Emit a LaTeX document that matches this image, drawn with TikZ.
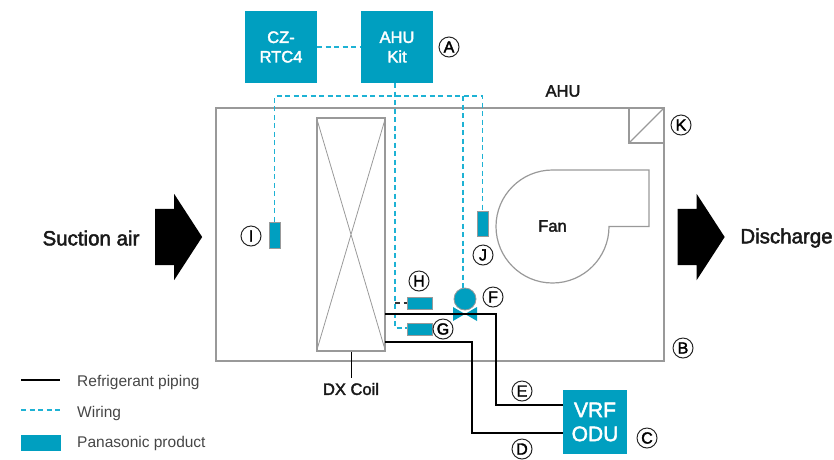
\documentclass[tikz,border=0pt]{standalone}
\usepackage{fontspec}
\setmainfont{Liberation Sans}
\newfontfamily\medfont[FakeBold=2.2]{Liberation Sans}
\usetikzlibrary{shapes.arrows}
\definecolor{product}{RGB}{0,159,192}
\definecolor{wirecol}{RGB}{30,178,212}
\definecolor{casing}{RGB}{153,153,153}
\definecolor{legendtext}{RGB}{70,70,70}
\newcommand{\fsize}[1]{\fontsize{#1}{#1}\selectfont}
\tikzset{
	product/.style={fill=product, text=white, inner sep=0pt, align=center},
	sensor/.style={fill=product, draw=casing, line width=1pt, inner sep=0pt},
	tag/.style={circle, draw=black!85, line width=1pt, minimum size=20pt, inner sep=0pt, font=\fsize{16}\medfont},
	label/.style={font=\fsize{16.5}\medfont, text=black!90},
	biglabel/.style={font=\fsize{20.5}\medfont, text=black!90},
	legend/.style={anchor=west, inner sep=0pt, font=\fsize{15.5}, text=legendtext},
	casing/.style={draw=casing, line width=1.2pt},
	pipe/.style={draw=black, line width=2pt},
	wire/.style={draw=wirecol, line width=1.5pt, dash pattern=on 5pt off 3.5pt},
	flow/.style={single arrow, fill=black, inner xsep=0pt, inner ysep=28pt, minimum height=47pt, single arrow head extend=15pt, single arrow head indent=0pt, single arrow tip angle=114}
}
\begin{document}
\begin{tikzpicture}[x=1pt, y=-1pt]
	\useasboundingbox (0,0) rectangle (834,459);
	
	\node[product, minimum size=72pt, font=\fsize{16.5}\medfont] (CZ) at (281,47) {CZ-\\[3pt]RTC4};
	\node[product, minimum size=72pt, font=\fsize{16.5}\medfont] (Kit) at (397,47) {AHU\\[3pt]Kit};
	\node[product, minimum size=64pt, font=\fsize{21}\medfont] (ODU) at (595,422) {VRF\\[3pt]ODU};
	
	\draw[casing] (216,108) rectangle (664,361);
	\node[casing, draw, minimum width=68pt, minimum height=233pt, inner sep=0pt] (Coil) at (351,234.5) {};
	\draw[casing, line width=0.8pt] (Coil.north west) -- (Coil.south east) (Coil.north east) -- (Coil.south west);
	\draw[casing] (629,108) rectangle (664,143);
	\draw[casing] (629,143) -- (664,108);
	\draw[casing] (552.5,170) -- (649,170) -- (649,226.5) -- (609,226.5) arc[start angle=0, end angle=-270, radius=56.5pt];
	
	\node[sensor, minimum width=11pt, minimum height=26pt] (SI) at (274.5,235) {};
	\node[sensor, minimum width=11pt, minimum height=25pt] (SJ) at (482.5,223.5) {};
	\node[sensor, minimum width=25pt, minimum height=12pt] (SH) at (419.5,303) {};
	\node[sensor, minimum width=25pt, minimum height=12pt] (SG) at (419.5,329) {};
	\node[circle, fill=product, draw=casing, line width=0.8pt, minimum size=22pt, inner sep=0pt] (SF) at (465,299) {};
	\fill[product] (453,307) -- (477,321) -- (477,307) -- (453,321) -- cycle;
	
	\coordinate (WT) at (395,96);
	\coordinate (WH) at (395,303);
	\coordinate (WG) at (395,328);
	\coordinate (WL) at (274.5,96);
	\coordinate (WF) at (463,96);
	\coordinate (WR) at (482.5,96);
	\coordinate (P1) at (385,314);
	\coordinate (P2) at (385,342);
	\coordinate (P1c) at (496,405);
	\coordinate (P2c) at (472,433);
	\coordinate (Stem) at (351,378);
	
	\draw[wire] (CZ.east) -- (Kit.west);
	\draw[wire] (WT |- Kit.south) -- (WG) -- (SG.west |- WG);
	\draw[wire, draw=black!80] (WH) -- (SH.west);
	\draw[wire] (SI.north) -- (WL) -- (WR) -- (SJ.north);
	\draw[wire] (WF) -- (WF |- SF.north);
	
	\draw[pipe] (P1) -- (P1 -| P1c) -- (P1c) -- (P1c -| ODU.west);
	\draw[pipe] (P2) -- (P2 -| P2c) -- (P2c) -- (P2c -| ODU.west);
	\draw[black, line width=1pt] (Coil.south) -- (Stem);
	
	\node[flow] (In) at (169.5,237) {};
	\node[flow] (Out) at (692,237) {};
	
	\node[biglabel] (Suction) at (91,238) {Suction air};
	\node[biglabel] (Discharge) at (786.5,238) {Discharge};
	\node[label] (AHU) at (563,91) {AHU};
	\node[label] (Fan) at (552.5,226) {Fan};
	\node[label] (DX) at (351,389) {DX Coil};
	
	\node[tag] (TA) at (449,47) {A};
	\node[tag] (TB) at (683,348) {B};
	\node[tag] (TC) at (647,438) {C};
	\node[tag] (TD) at (522,449) {D};
	\node[tag] (TE) at (522,391) {E};
	\node[tag] (TF) at (493,297) {F};
	\node[tag] (TG) at (443,329) {G};
	\node[tag] (TH) at (419,281) {H};
	\node[tag] (TI) at (251,236) {I};
	\node[tag] (TJ) at (483,255) {J};
	\node[tag] (TK) at (681,125) {K};
	
	% legend
	\coordinate (L1a) at (21,380);
	\coordinate (L1b) at (60,380);
	\coordinate (L2a) at (21,410);
	\coordinate (L2b) at (60,410);
	\draw[pipe] (L1a) -- (L1b);
	\draw[wire] (L2a) -- (L2b);
	\node[product, minimum width=40pt, minimum height=16pt] (L3) at (41,443) {};
	\node[legend] (LT1) at (77,382) {Refrigerant piping};
	\node[legend] (LT2) at (77,413) {Wiring};
	\node[legend] (LT3) at (77,443.5) {Panasonic product};
\end{tikzpicture}
\end{document}
